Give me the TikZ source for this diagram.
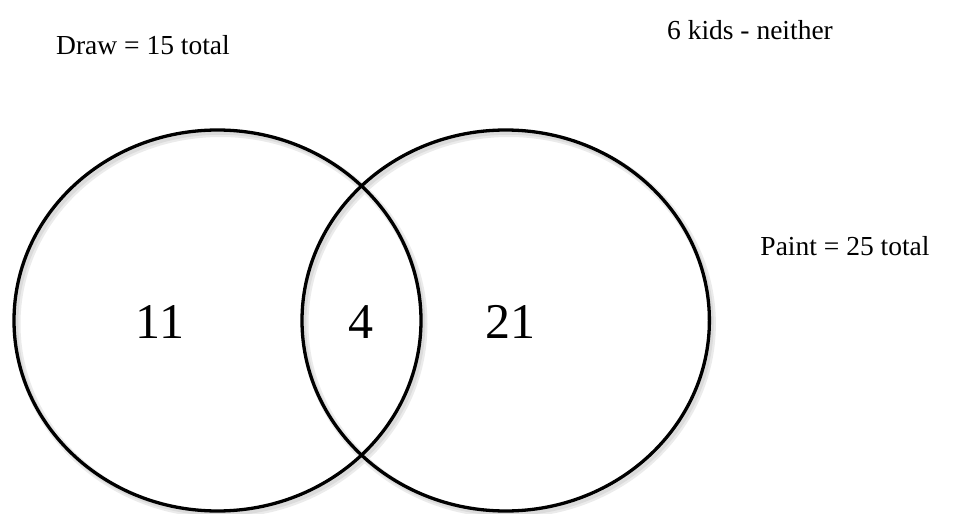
\documentclass[tikz,border=0pt]{standalone}
\usepackage{fontspec}
\setmainfont{Liberation Serif}
\begin{document}
\begin{tikzpicture}[x=1pt,y=-1pt,
  ring/.style={draw=black,line width=3.3pt},
  shade1/.style={draw=black!8,line width=7pt},
  shade2/.style={draw=black!14,line width=3.5pt},
  lbl/.style={font=\fontsize{27.5}{30}\selectfont,inner sep=0pt},
  num/.style={font=\fontsize{50}{55}\selectfont,inner sep=0pt}]
\useasboundingbox (0,0) rectangle (954,514);
\draw[shade1] (220.5,324) ellipse [x radius=203.5,y radius=190.5];
\draw[shade1] (508.7,324) ellipse [x radius=203.7,y radius=190.5];
\draw[shade2] (220,323.5) ellipse [x radius=203.5,y radius=190.5];
\draw[shade2] (508.2,323.5) ellipse [x radius=203.7,y radius=190.5];
\draw[ring] (217.5,320.5) ellipse [x radius=203.5,y radius=190.5];
\draw[ring] (505.7,320.5) ellipse [x radius=203.7,y radius=190.5];
\node[lbl] (draw) at (143,45) {Draw = 15 total};
\node[lbl] (neither) at (750,30) {6 kids - neither};
\node[lbl] (paint) at (845,246) {Paint = 25 total};
\node[num] (n11) at (160,322) {11};
\node[num] (n4) at (361,322) {4};
\node[num] (n21) at (510,322) {21};
\end{tikzpicture}
\end{document}
